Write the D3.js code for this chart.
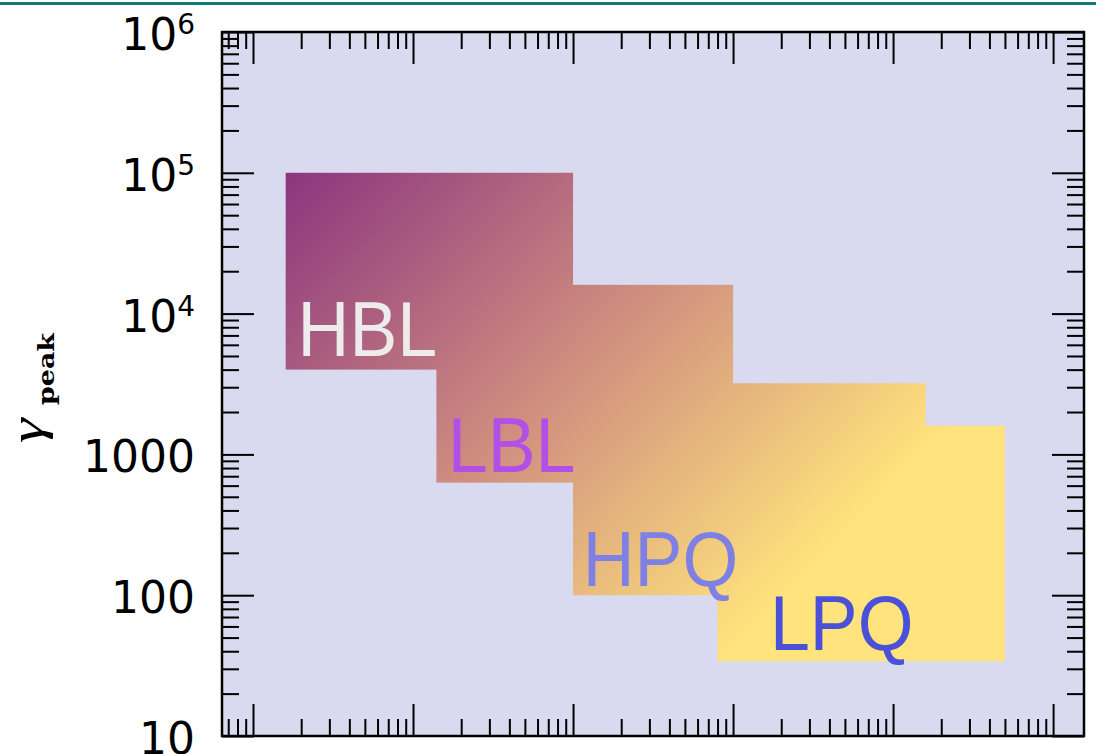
<!DOCTYPE html>
<html><head><meta charset="utf-8">
<script src="https://cdn.jsdelivr.net/npm/d3@7"></script>
<style>html,body{margin:0;padding:0;background:#fff;} svg{display:block}</style>
</head><body>
<svg id="c" width="1096" height="754"></svg>
<script>
// ---- data ----
const classes     = ["HBL", "LBL", "HPQ", "LPQ"];
const xLow        = [1.6, 14, 100, 800];
const xHigh       = [100, 1000, 16000, 50000];
const yLow        = [4000, 630, 100, 34];
const yHigh       = [1e5, 16000, 3200, 1600];
const labelX      = [1.9, 16.5, 115, 1700];
const labelY      = [5000, 750, 116, 40.8];
const labelColors = ["#ececec", "#b24fe6", "#7f80e4", "#4a50d8"];
const yTickValues = [10, 100, 1000, 1e4, 1e5, 1e6];
const yTickBase   = ["10", "100", "1000", "10", "10", "10"];
const yTickExp    = ["", "", "", "4", "5", "6"];
const xMajorTicks = [1, 10, 100, 1000, 1e4, 1e5];
const xDomain     = [0.64, 1.56e5];
const yDomain     = [10, 1e6];
const gradStart   = [1.6, 1e5];
const gradEnd     = [1300, 57];

// ---- layout ----
const L = 222, R = 1084, T = 32, B = 736;
const svg = d3.select("#c");

const x = d3.scaleLog().domain(xDomain).range([L, R]);
const y = d3.scaleLog().domain(yDomain).range([B, T]);

function minors(domain) {
  const out = [];
  const k0 = Math.floor(Math.log10(domain[0])), k1 = Math.ceil(Math.log10(domain[1]));
  for (let k = k0; k <= k1; k++) for (let m = 2; m <= 9; m++) {
    const v = m * Math.pow(10, k);
    if (v >= domain[0] && v <= domain[1]) out.push(v);
  }
  return out;
}
const xMinor = minors(xDomain);
const yMinor = minors(yDomain);
const yMajor = yTickValues;

// top teal rule
svg.append("rect").attr("x", 0).attr("y", 2).attr("width", 1096).attr("height", 3).attr("fill", "#0f7d79");

// plot background
svg.append("rect").attr("x", L).attr("y", T).attr("width", R - L).attr("height", B - T).attr("fill", "#d9d9ef");

// gradient
const defs = svg.append("defs");
const grad = defs.append("linearGradient").attr("id", "g").attr("gradientUnits", "userSpaceOnUse")
  .attr("x1", x(gradStart[0])).attr("y1", y(gradStart[1]))
  .attr("x2", x(gradEnd[0])).attr("y2", y(gradEnd[1]));
grad.append("stop").attr("offset", 0).attr("stop-color", "#8c357f");
grad.append("stop").attr("offset", 0.5).attr("stop-color", "#cd8a7f");
grad.append("stop").attr("offset", 1).attr("stop-color", "#ffe37c");

const boxes = classes.map((c, i) => ({c, x0: xLow[i], x1: xHigh[i], y0: yLow[i], y1: yHigh[i]}));
svg.append("g").selectAll("rect").data(boxes).join("rect")
  .attr("x", d => x(d.x0)).attr("y", d => y(d.y1))
  .attr("width", d => x(d.x1) - x(d.x0)).attr("height", d => y(d.y0) - y(d.y1))
  .attr("fill", "url(#g)");

// class labels
svg.append("g").selectAll("text").data(classes).join("text")
  .attr("transform", (d, i) => `translate(${x(labelX[i])},${y(labelY[i])}) scale(0.92,1)`)
  .attr("font-family", "'Liberation Sans', Arial, sans-serif").attr("font-size", 78)
  .attr("fill", (d, i) => labelColors[i]).text(d => d);

// axes (ticks inside)
function drawAxis(gen, tx, ty) {
  const g = svg.append("g").attr("transform", `translate(${tx},${ty})`).call(gen);
  g.select(".domain").remove();
  g.selectAll("text").remove();
  g.selectAll("line").attr("stroke", "#000").attr("stroke-width", 2);
}
drawAxis(d3.axisTop(x).tickValues(xMajorTicks).tickSize(32), 0, B);
drawAxis(d3.axisTop(x).tickValues(xMinor).tickSize(17), 0, B);
drawAxis(d3.axisBottom(x).tickValues(xMajorTicks).tickSize(32), 0, T);
drawAxis(d3.axisBottom(x).tickValues(xMinor).tickSize(17), 0, T);
drawAxis(d3.axisRight(y).tickValues(yMajor).tickSize(32), L, 0);
drawAxis(d3.axisRight(y).tickValues(yMinor).tickSize(17), L, 0);
drawAxis(d3.axisLeft(y).tickValues(yMajor).tickSize(32), R, 0);
drawAxis(d3.axisLeft(y).tickValues(yMinor).tickSize(17), R, 0);

// frame
svg.append("rect").attr("x", L).attr("y", T).attr("width", R - L).attr("height", B - T)
  .attr("fill", "none").attr("stroke", "#000").attr("stroke-width", 2.5);

// y tick labels
const yl = svg.append("g").attr("font-family", "'DejaVu Sans', sans-serif").attr("fill", "#000");
yTickValues.forEach((v, i) => {
  const t = yl.append("text").attr("x", 195).attr("y", y(v) + 18).attr("text-anchor", "end").attr("font-size", 44);
  t.append("tspan").text(yTickBase[i]);
  if (yTickExp[i]) t.append("tspan").attr("font-size", 28).attr("dy", -16).text(yTickExp[i]);
});

// y axis title
svg.append("text").attr("transform", "translate(43,443) rotate(-90) scale(1.3,1)")
  .attr("font-family", "'Liberation Serif', serif").attr("font-style", "italic").attr("font-size", 48).text("γ");
svg.append("text").attr("transform", "translate(54,405) rotate(-90)")
  .attr("font-family", "'DejaVu Serif', serif").attr("font-weight", "bold").attr("font-size", 23)
  .attr("textLength", 72).attr("lengthAdjust", "spacingAndGlyphs").text("peak");
</script>
</body></html>
